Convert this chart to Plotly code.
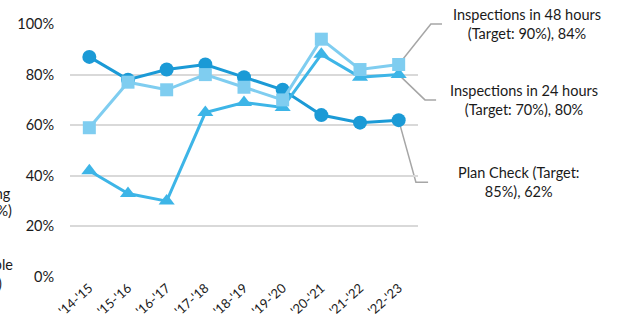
import plotly.graph_objects as go

# Fiscal years on the category axis
years = ["'14-'15", "'15-'16", "'16-'17", "'17-'18", "'18-'19",
         "'19-'20", "'20-'21", "'21-'22", "'22-'23"]

# Percent of work completed within target, by measure
plan_check = [87, 78, 82, 84, 79, 74, 64, 61, 62]
insp_48h = [59, 77, 74, 80, 75, 70, 94, 82, 84]
insp_24h = [42, 33, 30, 65, 69, 67, 88, 79, 80]

y_ticks = [0, 20, 40, 60, 80, 100]
y_tick_text = [f"{v}%" for v in y_ticks]

FONT = "Lato, 'Open Sans', sans-serif"
C_PLAN = "#1b9ad6"
C_48 = "#7fcdf0"
C_24 = "#3db5e7"
LEADER = "#a6a6a6"
TXT = "#1a1a1a"

n = len(years)


def px_of(i):
    # paper x of category index i
    return (i + 0.5) / n


def py_of(v):
    # paper y of a percentage value
    return v / 100.0


fig = go.Figure()
fig.add_trace(go.Scatter(
    x=years, y=plan_check, mode="lines+markers", name="Plan Check",
    line=dict(color=C_PLAN, width=3),
    marker=dict(symbol="circle", size=14, color=C_PLAN)))
fig.add_trace(go.Scatter(
    x=years, y=insp_24h, mode="lines+markers", name="Inspections in 24 hours",
    line=dict(color=C_24, width=3),
    marker=dict(symbol="triangle-up", size=14, color=C_24)))
fig.add_trace(go.Scatter(
    x=years, y=insp_48h, mode="lines+markers", name="Inspections in 48 hours",
    line=dict(color=C_48, width=3),
    marker=dict(symbol="square", size=13, color=C_48)))

# End-of-line labels with elbow leader lines
labels = [
    (insp_48h[-1], 1.037, 1.000, 1.069, 1.313,
     f"Inspections in 48 hours<br>(Target: 90%), {insp_48h[-1]}%"),
    (insp_24h[-1], 1.020, 0.700, 1.052, 1.305,
     f"Inspections in 24 hours<br>(Target: 70%), {insp_24h[-1]}%"),
    (plan_check[-1], 0.994, 0.375, 1.029, 1.290,
     f"Plan Check (Target:<br>85%), {plan_check[-1]}%"),
]
shapes = []
annotations = []
last = n - 1
for val, bx, by, ex, tx, text in labels:
    shapes.append(dict(
        type="path", xref="paper", yref="paper", layer="between",
        path=f"M {px_of(last)},{py_of(val)} L {bx},{by} L {ex},{by}",
        line=dict(color=LEADER, width=1.5)))
    annotations.append(dict(
        xref="paper", yref="paper", x=tx, y=by, text=text,
        showarrow=False, xanchor="center", yanchor="middle", align="center",
        font=dict(family=FONT, size=14.5, color=TXT)))

# Labels of further measures that sit past the left edge
for text, x, y in [
    ("Same Day Building", -0.163, 0.332),
    ("(Target: 90%)", -0.161, 0.261),
    ("Over-the-Counter Simple", -0.158, 0.050),
    ("Permits (Target: 95%)", -0.190, -0.024),
]:
    annotations.append(dict(
        xref="paper", yref="paper", x=x, y=y, text=text,
        showarrow=False, xanchor="right", yanchor="middle",
        font=dict(family=FONT, size=14.5, color=TXT)))

fig.update_layout(
    width=618, height=325,
    margin=dict(l=70, r=200, t=24, b=48),
    paper_bgcolor="white", plot_bgcolor="white",
    showlegend=False,
    font=dict(family=FONT, size=13, color=TXT),
    shapes=shapes, annotations=annotations,
    xaxis=dict(
        type="category", range=[-0.5, n - 0.5], automargin=False,
        showgrid=False, zeroline=False, showline=False,
        tickangle=-42, ticks="",
        tickfont=dict(family=FONT, size=13, color=TXT)),
    yaxis=dict(
        range=[0, 100], tickvals=y_ticks, ticktext=y_tick_text,
        automargin=False,
        showgrid=True, gridcolor="#d9d9d9", gridwidth=2,
        zeroline=False, showline=False,
        ticks="outside", ticklen=12, tickcolor="rgba(0,0,0,0)",
        tickfont=dict(family=FONT, size=14.5, color=TXT)),
)

fig.write_html("out.html")
